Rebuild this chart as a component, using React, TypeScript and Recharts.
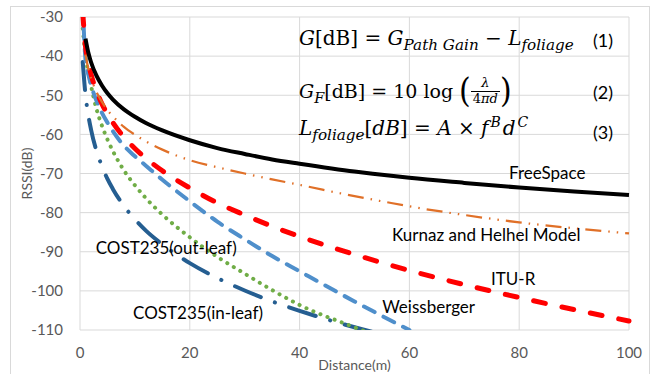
import { LineChart, Line, XAxis, YAxis, CartesianGrid, ReferenceDot } from 'recharts'

// distance in metres
const distance = [0.5, 1, 1.5, 2, 3, 4, 5, 6, 8, 10, 12, 15, 20, 25, 30, 35, 40, 50, 55, 60, 70, 80, 90, 100]

const freeSpace = [null, -35.5, -39.0, -41.5, -45.0, -47.5, -49.5, -51.1, -53.6, -55.5, -57.1, -59.0, -61.5, -63.5, -65.0, -66.4, -67.5, -69.5, -70.3, -71.1, -72.4, -73.6, -74.6, -75.5]
const kurnaz = [null, -39.6, -43.1, -45.6, -49.2, -51.7, -53.8, -55.4, -58.1, -60.1, -61.8, -63.9, -66.6, -68.4, -70.0, -71.5, -72.9, -75.8, -77.1, -78.4, -80.6, -82.5, -84.0, -85.3]
const ituR = [-29, -37.5, -41.6, -44.6, -48.9, -52.2, -54.8, -57.0, -60.7, -63.6, -66.1, -69.3, -73.7, -77.5, -80.6, -83.5, -86.1, -90.7, -92.8, -94.8, -98.4, -101.7, -104.8, -107.7]
const weissberger = [-27, -40.8, -44.6, -47.3, -51.4, -54.5, -57.0, -59.2, -62.9, -65.6, -68.0, -71.6, -77.1, -82.3, -86.8, -91.1, -95.0, -102.7, -106.4, -110.0, null, null, null, null]
const costOutLeaf = [-33, -40, -44, -47.5, -53.5, -57.8, -61.3, -64.3, -69.2, -73.0, -76.3, -80.5, -86.3, -91.3, -95.6, -99.8, -103.6, -109.3, -112.0, null, null, null, null, null]
const costInLeaf = [-41.5, -49.9, -55.0, -58.7, -64.2, -68.1, -71.4, -74.0, -78.3, -81.7, -84.6, -88.1, -92.9, -96.7, -99.9, -102.7, -105.1, -109.3, -111.1, null, null, null, null, null]

const xTicks = [0, 20, 40, 60, 80, 100]
const yTicks = [-110, -100, -90, -80, -70, -60, -50, -40, -30]

// curve labels: [text, distance, rssi]
const curveLabels: [string, number, number][] = [
  ['FreeSpace', 85.1, -69.9],
  ['Kurnaz and Helhel Model', 74, -85.8],
  ['ITU-R', 78.9, -97],
  ['Weissberger', 63.5, -104.2],
  ['COST235(out-leaf)', 15.7, -89.1],
  ['COST235(in-leaf)', 21.5, -105.7],
]

const data = distance.map((d, i) => ({
  d,
  freeSpace: freeSpace[i],
  kurnaz: kurnaz[i],
  ituR: ituR[i],
  weissberger: weissberger[i],
  costOutLeaf: costOutLeaf[i],
  costInLeaf: costInLeaf[i],
}))

const sans = 'Lato, "Open Sans", sans-serif'
const serif = '"DejaVu Serif", "Liberation Serif", serif'
const sub = { fontSize: '0.76em', verticalAlign: '-0.32em', lineHeight: 0 }
const sup = { fontSize: '0.7em', verticalAlign: '0.6em', lineHeight: 0, marginLeft: 2 }
const eq = { position: 'absolute' as const, left: 299, fontFamily: serif, fontSize: 19, whiteSpace: 'nowrap' as const, color: '#000' }
const num = { position: 'absolute' as const, left: 593, fontFamily: sans, fontSize: 18, color: '#000' }

export default function App() {
  return (
    <div style={{ position: 'absolute', left: 0, top: 0, width: 652, height: 374, overflow: 'hidden', background: '#fff' }}>
      <div style={{ position: 'absolute', left: 10, top: 6, width: 638, height: 400, border: '1px solid #d9d9d9' }} />
      <LineChart width={652} height={374} data={data} margin={{ top: 17, right: 23, left: 0, bottom: 0 }}>
        <CartesianGrid stroke="#d9d9d9" strokeWidth={1} />
        <XAxis
          dataKey="d"
          type="number"
          domain={[0, 100]}
          ticks={xTicks}
          height={44}
          tick={{ fontSize: 15, fill: '#595959', fontFamily: sans }}
          tickMargin={11}
          axisLine={false}
          tickLine={false}
          label={{ value: 'Distance(m)', position: 'insideBottom', offset: 4, fontSize: 14, fill: '#595959', fontFamily: sans }}
        />
        <YAxis
          type="number"
          domain={[-110, -30]}
          ticks={yTicks}
          allowDataOverflow
          width={80}
          tick={{ fontSize: 15, fill: '#595959', fontFamily: sans }}
          tickMargin={11}
          axisLine={false}
          tickLine={false}
          label={{ value: 'RSSI(dB)', angle: -90, position: 'insideLeft', offset: 27, style: { textAnchor: 'middle' }, fontSize: 14, fill: '#595959', fontFamily: sans }}
        />
        <Line type="monotone" dataKey="costInLeaf" stroke="#255E91" strokeWidth={4} strokeDasharray="28 15 0.1 15" strokeLinecap="round" dot={false} isAnimationActive={false} />
        <Line type="monotone" dataKey="costOutLeaf" stroke="#70AD47" strokeWidth={4} strokeDasharray="0.1 7.5" strokeLinecap="round" dot={false} isAnimationActive={false} />
        <Line type="monotone" dataKey="weissberger" stroke="#4F8FCB" strokeWidth={4} strokeDasharray="12 10" strokeLinecap="round" dot={false} isAnimationActive={false} />
        <Line type="monotone" dataKey="ituR" stroke="#FF0000" strokeWidth={5} strokeDasharray="12 17" strokeLinecap="round" dot={false} isAnimationActive={false} />
        <Line type="monotone" dataKey="kurnaz" stroke="#E07028" strokeWidth={2.25} strokeDasharray="16 7 1.5 7 1.5 7" dot={false} isAnimationActive={false} />
        <Line type="monotone" dataKey="freeSpace" stroke="#000000" strokeWidth={4} dot={false} isAnimationActive={false} />
        {curveLabels.map(([text, x, y]) => (
          <ReferenceDot
            key={text}
            x={x}
            y={y}
            r={0}
            fill="none"
            stroke="none"
            label={{ value: text, position: 'center', fill: '#000', fontSize: 17, fontFamily: sans }}
          />
        ))}
      </LineChart>
      <div style={{ ...eq, top: 26, fontSize: 20 }}>
        <i>G</i>[dB] = <i>G</i><span style={sub}><i>Path Gain</i></span> − <i>L</i><span style={sub}><i>foliage</i></span>
      </div>
      <div style={{ ...eq, top: 76, display: 'flex', alignItems: 'center' }}>
        <span>
          <i>G</i><span style={sub}><i>F</i></span>[dB] = 10 log
        </span>
        <span style={{ fontSize: 30, marginLeft: 6, transform: 'scaleY(1.1)', lineHeight: 1, fontWeight: 300 }}>(</span>
        <span style={{ display: 'inline-flex', flexDirection: 'column', alignItems: 'center', fontSize: 13, lineHeight: 1.15 }}>
          <i>λ</i>
          <span style={{ borderTop: '1px solid #000', padding: '0 2px' }}>
            4<i>πd</i>
          </span>
        </span>
        <span style={{ fontSize: 30, transform: 'scaleY(1.1)', lineHeight: 1, fontWeight: 300 }}>)</span>
      </div>
      <div style={{ ...eq, top: 116, fontSize: 20 }}>
        <i>L</i><span style={sub}><i>foliage</i></span>[<i>dB</i>] = <i>A</i> × <i>f</i><span style={sup}><i>B</i></span><i style={{ marginLeft: 2 }}>d</i><span style={sup}><i>C</i></span>
      </div>
      <div style={{ ...num, top: 29 }}>(1)</div>
      <div style={{ ...num, top: 81 }}>(2)</div>
      <div style={{ ...num, top: 121 }}>(3)</div>
    </div>
  )
}
